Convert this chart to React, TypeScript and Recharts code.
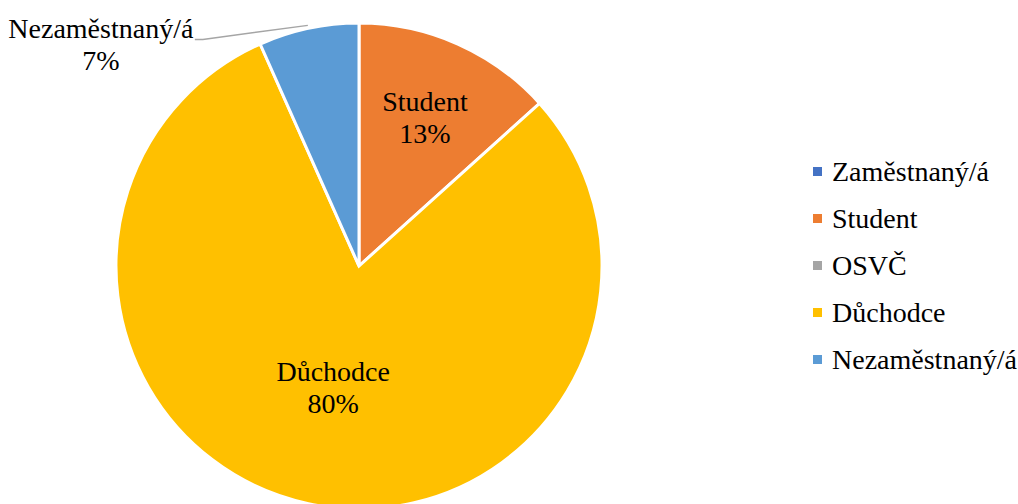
import { Cell, Legend, Pie, PieChart } from "recharts";

const categories = ["Zaměstnaný/á", "Student", "OSVČ", "Důchodce", "Nezaměstnaný/á"];
const counts = [0, 2, 0, 12, 1];
const percentLabels = ["0%", "13%", "0%", "80%", "7%"];

const COLORS = ["#4472C4", "#ED7D31", "#A5A5A5", "#FFC000", "#5B9BD5"];
const FONT = "'Times New Roman', 'Liberation Serif', serif";
const FONT_SIZE = 28;
const RAD = Math.PI / 180;

const data = categories.map((name, i) => ({
  name,
  value: counts[i],
  pct: percentLabels[i],
}));

// how far out each inside label sits (fraction of radius)
const insideRatio: Record<string, number> = {
  Student: 0.667,
  "Důchodce": 0.51,
};

function renderLabel(props: any) {
  const { cx, cy, midAngle, outerRadius, name, value, payload } = props;
  if (!value) return null;
  const pct = payload?.pct ?? props.pct;
  const cos = Math.cos(-midAngle * RAD);
  const sin = Math.sin(-midAngle * RAD);

  if (insideRatio[name] != null) {
    const r = outerRadius * insideRatio[name];
    const x = cx + r * cos;
    const y = cy + r * sin;
    return (
      <text
        x={x}
        y={y}
        textAnchor="middle"
        style={{ fontFamily: FONT, fontSize: FONT_SIZE }}
        fill="#000"
      >
        <tspan x={x} y={y - 16} dominantBaseline="central">
          {name}
        </tspan>
        <tspan x={x} y={y + 16} dominantBaseline="central">
          {pct}
        </tspan>
      </text>
    );
  }

  // outside label with leader line
  const sx = cx + (outerRadius + 3) * cos;
  const sy = cy + (outerRadius + 3) * sin;
  const ex = sx - 105;
  const ey = sy + 14;
  const tx = ex - 8;
  const labelX = tx - 94;
  return (
    <g>
      <polyline
        points={`${sx},${sy} ${ex},${ey} ${tx},${ey}`}
        fill="none"
        stroke="#A5A5A5"
        strokeWidth={1.5}
      />
      <text
        textAnchor="middle"
        style={{ fontFamily: FONT, fontSize: FONT_SIZE }}
        fill="#000"
      >
        <tspan x={labelX} y={sy + 3} dominantBaseline="central">
          {name}
        </tspan>
        <tspan x={labelX} y={sy + 35} dominantBaseline="central">
          {pct}
        </tspan>
      </text>
    </g>
  );
}

function renderLegend() {
  return (
    <div style={{ fontFamily: FONT, fontSize: FONT_SIZE, color: "#000" }}>
      {categories.map((name, i) => (
        <div
          key={name}
          style={{ display: "flex", alignItems: "center", height: 47 }}
        >
          <span
            style={{
              display: "inline-block",
              width: 9,
              height: 9,
              background: COLORS[i],
              marginRight: 10,
            }}
          />
          <span>{name}</span>
        </div>
      ))}
    </div>
  );
}

export default function App() {
  return (
    <div style={{ position: "absolute", left: 0, top: 0, background: "#fff" }}>
      <PieChart
        width={1018}
        height={504}
        margin={{ top: 0, right: 0, bottom: 0, left: 0 }}
      >
        <Pie
          data={data}
          dataKey="value"
          nameKey="name"
          cx={359}
          cy={266}
          outerRadius={243}
          startAngle={90}
          endAngle={-270}
          stroke="#fff"
          strokeWidth={3}
          label={renderLabel}
          labelLine={false}
          isAnimationActive={false}
        >
          {data.map((entry, index) => (
            <Cell key={`${entry.name}-${index}`} fill={COLORS[index]} />
          ))}
        </Pie>
        <Legend
          content={renderLegend}
          wrapperStyle={{ position: "absolute", left: 813, top: 148, width: 205 }}
        />
      </PieChart>
    </div>
  );
}
